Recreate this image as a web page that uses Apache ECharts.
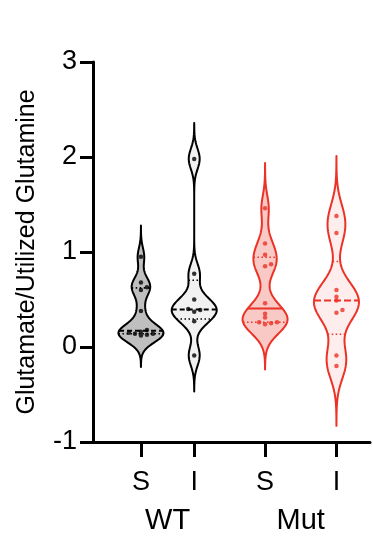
<!DOCTYPE html>
<html><head><meta charset="utf-8">
<script src="https://cdn.jsdelivr.net/npm/echarts@6/dist/echarts.min.js"></script>
<style>html,body{margin:0;padding:0;background:#fff}#c{width:373px;height:537px}</style>
</head><body><div id="c"></div>
<script>
// ---------- data ----------
const groupLabels = ['WT', 'Mut'];
const conditionLabels = ['S', 'I', 'S', 'I'];
const yTicks = [-1, 0, 1, 2, 3];
const yTitle = 'Glutamate/Utilized Glutamine';
const wtS  = [0.95, 0.68, 0.63, 0.60, 0.38, 0.18, 0.16, 0.15, 0.14, 0.14, 0.13, 0.12];
const wtI  = [1.98, 0.77, 0.50, 0.40, 0.39, 0.37, 0.27, -0.09];
const mutS = [1.46, 1.09, 0.97, 0.87, 0.85, 0.46, 0.35, 0.31, 0.26, 0.26, 0.25, 0.24];
const mutI = [1.38, 1.20, 0.60, 0.53, 0.49, 0.39, 0.36, -0.09, -0.20];

// ---------- layout / style ----------
const W = 373, H = 537;
const GRID = {left: 93, right: 3, top: 62, bottom: 95};
const XMIN = -0.9, XMAX = 4.3;
const POS = [0, 1, 2.33, 3.67];
const GROUP_POS = [0.5, 3.0];
const XPX = (W - GRID.left - GRID.right) / (XMAX - XMIN);
const YPX = (H - GRID.top - GRID.bottom) / (yTicks[yTicks.length-1] - yTicks[0]);
const HALF = 22.5 / XPX;
const FONT = 'Arial, "Liberation Sans", Helvetica, sans-serif';
const RED = '#ec3226';
const STYLES = [
  {fill: '#bfbfbf', stroke: '#000', medianDash: [5, 3]},
  {fill: '#f1f1f1', stroke: '#000', medianDash: [5, 3]},
  {fill: '#f9c9c5', stroke: RED, medianDash: null},
  {fill: '#fdeeed', stroke: RED, medianDash: [7, 3]}
];
const sets = [wtS, wtI, mutS, mutI];

// ---------- statistics ----------
function quant(a, p) {
  const n = a.length, pos = p * (n + 1), lo = Math.floor(pos), f = pos - lo;
  if (lo < 1) return a[0];
  if (lo >= n) return a[n - 1];
  return a[lo - 1] + f * (a[lo] - a[lo - 1]);
}
const violins = sets.map((raw, i) => {
  const a = raw.slice().sort((x, y) => x - y), n = a.length;
  const mean = a.reduce((s, v) => s + v, 0) / n;
  const sd = Math.sqrt(a.reduce((s, v) => s + (v - mean) * (v - mean), 0) / (n - 1));
  const q1 = quant(a, 0.25), med = quant(a, 0.5), q3 = quant(a, 0.75);
  const h = 0.6 * 0.9 * Math.min(sd, (q3 - q1) / 1.34) * Math.pow(n, -0.2);
  const lo = a[0] - 3.5 * h, hi = a[n - 1] + 3.5 * h;
  const ys = [], ds = [];
  const N = 160;
  for (let k = 0; k <= N; k++) {
    const y = lo + (hi - lo) * k / N;
    let d = 0;
    for (const v of a) d += Math.exp(-0.5 * Math.pow((y - v) / h, 2));
    ys.push(y); ds.push(d);
  }
  const mx = Math.max(...ds);
  const ws = ds.map(d => d / mx);
  const widthAt = (y) => {
    let d = 0;
    for (const v of a) d += Math.exp(-0.5 * Math.pow((y - v) / h, 2));
    return d / mx;
  };
  return {a, q1, med, q3, ys, ws, widthAt, style: STYLES[i]};
});

// ---------- beeswarm offsets (pixel space) ----------
const COLL = 3.6, STEP = 6;
function swarm(vals) {
  const placed = [];
  const order = vals.map((v, i) => i).sort((p, q) => vals[p] - vals[q]);
  const out = new Array(vals.length);
  for (const idx of order) {
    const yp = vals[idx] * YPX;
    let k = 0, off = 0;
    while (true) {
      off = k === 0 ? 0 : (k % 2 === 1 ? 1 : -1) * Math.ceil(k / 2) * STEP;
      const hit = placed.some(p => Math.hypot(p[0] - off, p[1] - yp) < COLL);
      if (!hit) break;
      k++;
    }
    placed.push([off, yp]);
    out[idx] = off;
  }
  return out;
}
const dotsBlack = [], dotsRed = [];
sets.forEach((vals, i) => {
  const offs = swarm(vals);
  vals.forEach((v, j) => {
    const pt = [POS[i] + offs[j] / XPX, v];
    (i < 2 ? dotsBlack : dotsRed).push(pt);
  });
});

function renderViolin(params, api) {
  const i = params.dataIndex, v = violins[i], pos = POS[i], st = v.style;
  const left = [], right = [];
  for (let k = 0; k < v.ys.length; k++) {
    const w = v.ws[k] * HALF;
    left.push(api.coord([pos - w, v.ys[k]]));
    right.push(api.coord([pos + w, v.ys[k]]));
  }
  const pts = left.concat(right.reverse());
  const hline = (y, lw, dash) => {
    const w = v.widthAt(y) * HALF;
    const p1 = api.coord([pos - w, y]), p2 = api.coord([pos + w, y]);
    return {type: 'line', shape: {x1: p1[0], y1: p1[1], x2: p2[0], y2: p2[1]},
      style: {stroke: st.stroke, lineWidth: lw, lineDash: dash}};
  };
  return {type: 'group', children: [
    {type: 'polygon', shape: {points: pts}, style: {fill: st.fill, stroke: st.stroke, lineWidth: 2, lineJoin: 'round'}},
    hline(v.q1, 1.6, [1.5, 2.5]),
    hline(v.q3, 1.6, [1.5, 2.5]),
    hline(v.med, 2, st.medianDash)
  ]};
}

const chart = echarts.init(document.getElementById('c'), null, {renderer: 'canvas'});
chart.setOption({
  animation: false,
  backgroundColor: '#fff',
  grid: GRID,
  xAxis: [{
    type: 'value', min: XMIN, max: XMAX, position: 'bottom',
    axisLine: {show: true, onZero: false, lineStyle: {color: '#000', width: 3}},
    axisTick: {show: true, customValues: POS, length: 15, lineStyle: {color: '#000', width: 3}},
    axisLabel: {show: true, customValues: POS, margin: 27, fontSize: 27, color: '#000', fontFamily: FONT,
      formatter: (val) => conditionLabels[POS.reduce((b, p, k) => Math.abs(p - val) < Math.abs(POS[b] - val) ? k : b, 0)]},
    splitLine: {show: false}
  }, {
    type: 'value', min: XMIN, max: XMAX, position: 'bottom',
    axisLine: {show: false, onZero: false}, axisTick: {show: false},
    axisLabel: {show: true, customValues: GROUP_POS, margin: 64, fontSize: 29, color: '#000', fontFamily: FONT,
      formatter: (val) => groupLabels[Math.abs(val - GROUP_POS[0]) < Math.abs(val - GROUP_POS[1]) ? 0 : 1]},
    splitLine: {show: false}
  }],
  yAxis: {
    type: 'value', min: yTicks[0], max: yTicks[yTicks.length - 1], interval: 1,
    name: yTitle, nameLocation: 'middle', nameGap: 53,
    nameTextStyle: {fontSize: 25, color: '#000', fontFamily: FONT},
    axisLine: {show: true, onZero: false, lineStyle: {color: '#000', width: 3}},
    axisTick: {show: true, length: 13, lineStyle: {color: '#000', width: 3}},
    axisLabel: {margin: 16, fontSize: 27, color: '#000', fontFamily: FONT},
    splitLine: {show: false}
  },
  series: [{
    type: 'custom', renderItem: renderViolin, xAxisIndex: 0,
    data: POS.map((p, i) => [p, violins[i].med]), z: 2, silent: true
  }, {
    type: 'scatter', xAxisIndex: 0, data: dotsBlack, symbolSize: 4.5,
    itemStyle: {color: '#000'}, z: 5, silent: true
  }, {
    type: 'scatter', xAxisIndex: 0, data: dotsRed, symbolSize: 4.5,
    itemStyle: {color: RED}, z: 5, silent: true
  }]
});
</script></body></html>
